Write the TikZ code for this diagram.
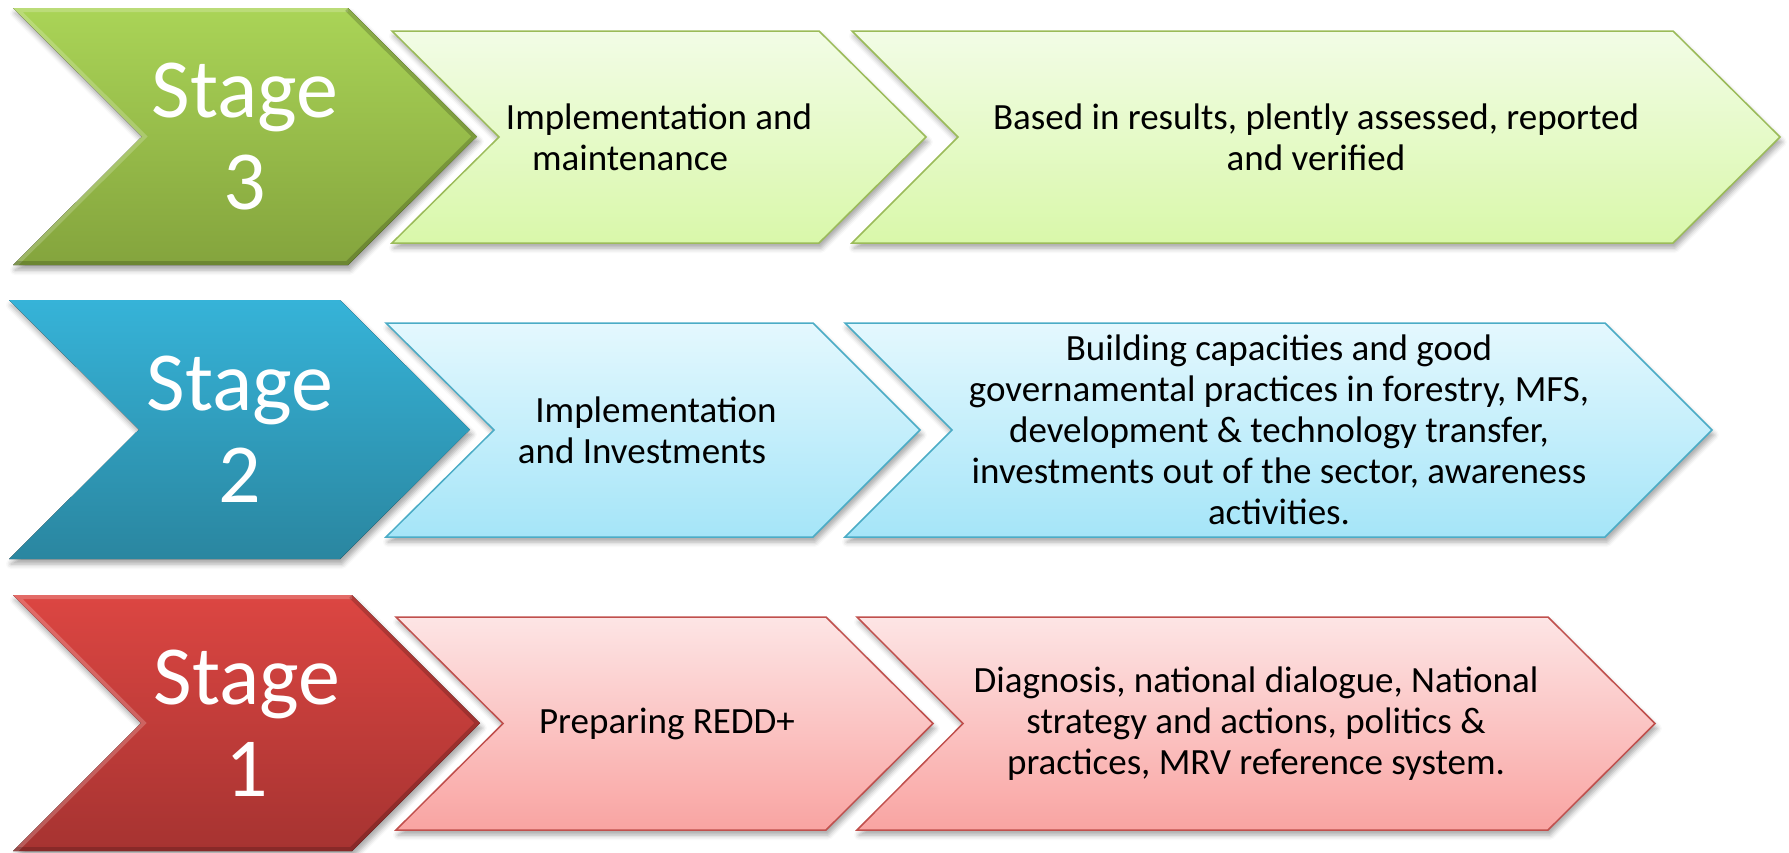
\documentclass[tikz,border=0pt]{standalone}
\usepackage{fontspec}
\setmainfont{Carlito}
\usepackage{xcolor}
\usetikzlibrary{shadows.blur}

\definecolor{grA}{HTML}{AAD457}
\definecolor{grB}{HTML}{84A43D}
\definecolor{grL}{HTML}{9BBB59}
\definecolor{grT}{HTML}{F2FCE6}
\definecolor{grU}{HTML}{D9F8AA}
\definecolor{blA}{HTML}{36B3D8}
\definecolor{blB}{HTML}{2A86A0}
\definecolor{blL}{HTML}{4BACC6}
\definecolor{blT}{HTML}{E4F8FE}
\definecolor{blU}{HTML}{A5E5F8}
\definecolor{rdA}{HTML}{DC4642}
\definecolor{rdB}{HTML}{A63331}
\definecolor{rdL}{HTML}{C0504D}
\definecolor{rdT}{HTML}{FDE5E5}
\definecolor{rdU}{HTML}{F9A4A2}

\begin{document}
\begin{tikzpicture}[x=0.5pt, y=-0.5pt,
    shadowed/.style={blur shadow={shadow xshift=1pt, shadow yshift=-2.5pt,
        shadow opacity=35, shadow blur radius=2.5pt}},
    stagetext/.style={text=white, align=center, font=\fontsize{42}{46}\selectfont},
    boxtext/.style={text=black, align=center, font=\fontsize{18.5}{20.5}\selectfont},
    bevlight/.style={white, opacity=.2, line width=4pt, line join=miter},
    bevdark/.style={black, opacity=.18, line width=4pt, line join=miter}]
    \useasboundingbox (0,0) rectangle (1789,852);

    % Stage 3 (top row, green)
    \fill[shadowed, top color=grA, bottom color=grB]
        (13,8) -- (348,8) -- (477,136.5) -- (348,265) -- (13,265) -- (142,136.5) -- cycle;
    \begin{scope}
        \clip (13,8) -- (348,8) -- (477,136.5) -- (348,265) -- (13,265) -- (142,136.5) -- cycle;
        \draw[bevlight] (13,265) -- (142,136.5) -- (13,8) -- (348,8);
        \draw[bevdark] (348,8) -- (477,136.5) -- (348,265) -- (13,265);
    \end{scope}
    \draw[shadowed, draw=grL, line width=0.75pt, top color=grT, bottom color=grU]
        (392,31) -- (819,31) -- (926,137) -- (819,243) -- (392,243) -- (499,137) -- cycle;
    \draw[shadowed, draw=grL, line width=0.75pt, top color=grT, bottom color=grU]
        (852,31) -- (1673,31) -- (1780,137) -- (1673,243) -- (852,243) -- (958,137) -- cycle;
    \node[stagetext] (stage3) at (245,136.5) {Stage\\3};
    \node[boxtext] (impl3) at (659,137) {Implementation and\\maintenance\hspace*{29pt}};
    \node[boxtext] (res3) at (1316,137) {Based in results, plently assessed, reported\\and verified};

    % Stage 2 (middle row, blue)
    \fill[shadowed, top color=blA, bottom color=blB]
        (9,300) -- (340,300) -- (470,429.5) -- (340,559) -- (9,559) -- (139,429.5) -- cycle;
    \draw[shadowed, draw=blL, line width=0.75pt, top color=blT, bottom color=blU]
        (386,323) -- (813,323) -- (920,430) -- (813,537) -- (386,537) -- (494,430) -- cycle;
    \draw[shadowed, draw=blL, line width=0.75pt, top color=blT, bottom color=blU]
        (845,323) -- (1605,323) -- (1712,430) -- (1605,537) -- (845,537) -- (952,430) -- cycle;
    \node[stagetext] (stage2) at (240,429.5) {Stage\\2};
    \node[boxtext] (impl2) at (656,430) {Implementation\\and Investments\hspace*{14pt}};
    \node[boxtext] (res2) at (1279,430) {Building capacities and good\\governamental practices in forestry, MFS,\\development \& technology transfer,\\investments out of the sector, awareness\\activities.};

    % Stage 1 (bottom row, red)
    \fill[shadowed, top color=rdA, bottom color=rdB]
        (13,595) -- (352,595) -- (480,723) -- (352,851) -- (13,851) -- (141,723) -- cycle;
    \begin{scope}
        \clip (13,595) -- (352,595) -- (480,723) -- (352,851) -- (13,851) -- (141,723) -- cycle;
        \draw[bevlight] (13,851) -- (141,723) -- (13,595) -- (352,595);
        \draw[bevdark] (352,595) -- (480,723) -- (352,851) -- (13,851);
    \end{scope}
    \draw[shadowed, draw=rdL, line width=0.75pt, top color=rdT, bottom color=rdU]
        (396,617) -- (826,617) -- (933,723.5) -- (826,830) -- (396,830) -- (503,723.5) -- cycle;
    \draw[shadowed, draw=rdL, line width=0.75pt, top color=rdT, bottom color=rdU]
        (857,617) -- (1548,617) -- (1655,723.5) -- (1548,830) -- (857,830) -- (963,723.5) -- cycle;
    \node[stagetext] (stage1) at (247,723) {Stage\\1};
    \node[boxtext] (prep1) at (667,723.5) {Preparing REDD+};
    \node[boxtext] (diag1) at (1256,723.5) {Diagnosis, national dialogue, National\\strategy and actions, politics \&\\practices, MRV reference system.};
\end{tikzpicture}
\end{document}
